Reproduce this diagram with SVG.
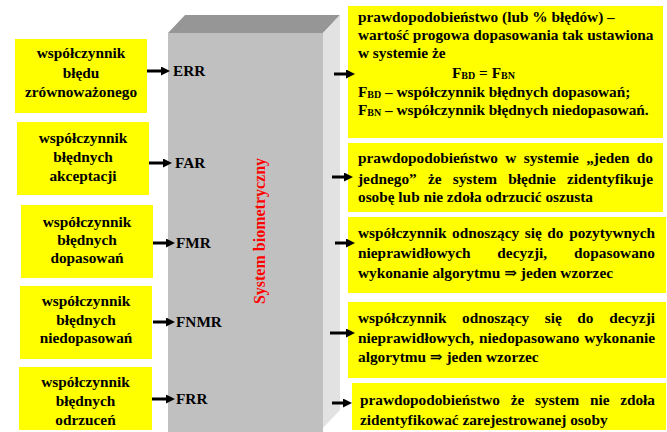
<svg xmlns="http://www.w3.org/2000/svg" width="667" height="432" viewBox="0 0 667 432">
<defs>
<marker id="ah" markerUnits="userSpaceOnUse" markerWidth="9" markerHeight="9" refX="2" refY="4.5" orient="auto">
<path d="M0,0 L9,4.5 L0,9 z" fill="#000"/>
</marker>
<style>
.box{fill:#ffff00;}
.t{font-family:"Liberation Serif","DejaVu Serif",serif;font-weight:bold;font-size:15.3px;fill:#000;}
.c{text-anchor:middle;}
.sub{font-size:10px;}
.ar{stroke:#000;stroke-width:3;fill:none;marker-end:url(#ah);}
.vt{font-family:"Liberation Serif","DejaVu Serif",serif;font-weight:bold;font-size:16px;fill:#ff0000;text-anchor:middle;}
</style>
</defs>
<rect width="667" height="432" fill="#fff"/>

<g id="system">
<rect x="168" y="33" width="155" height="399" fill="#c0c0c0"/>
<polygon points="168,33 185,15 340,15 323,33" fill="#969696"/>
<polygon points="323,33 340,15 340,410 323,428" fill="#e2e2e2"/>
<text class="vt" transform="translate(265,231) rotate(-90)">System biometryczny</text>
<text class="t" x="173" y="76">ERR</text>
<text class="t" x="175" y="168">FAR</text>
<text class="t" x="176" y="248">FMR</text>
<text class="t" x="176" y="327">FNMR</text>
<text class="t" x="176" y="404">FRR</text>
</g>

<g id="l1">
<rect class="box" x="15" y="39" width="132" height="74"/>
<text class="t c" x="81" y="58">współczynnik</text>
<text class="t c" x="81" y="78">błędu</text>
<text class="t c" x="81" y="97">zrównoważonego</text>
</g>
<g id="l2">
<rect class="box" x="17" y="122" width="132" height="73"/>
<text class="t c" x="83" y="143">współczynnik</text>
<text class="t c" x="83" y="162">błędnych</text>
<text class="t c" x="83" y="181">akceptacji</text>
</g>
<g id="l3">
<rect class="box" x="21" y="205" width="132" height="73"/>
<text class="t c" x="87" y="227">współczynnik</text>
<text class="t c" x="87" y="245">błędnych</text>
<text class="t c" x="87" y="263">dopasowań</text>
</g>
<g id="l4">
<rect class="box" x="20" y="286" width="132" height="73"/>
<text class="t c" x="86" y="306">współczynnik</text>
<text class="t c" x="86" y="325">błędnych</text>
<text class="t c" x="86" y="343">niedopasowań</text>
</g>
<g id="l5">
<rect class="box" x="19" y="367" width="133" height="63"/>
<text class="t c" x="85.5" y="387">współczynnik</text>
<text class="t c" x="85.5" y="406">błędnych</text>
<text class="t c" x="85.5" y="425">odrzuceń</text>
</g>

<g id="r1">
<rect class="box" x="348" y="6" width="315" height="132"/>
<text class="t" x="358" y="22">prawdopodobieństwo (lub % błędów) –</text>
<text class="t" x="358" y="40">wartość progowa dopasowania tak ustawiona</text>
<text class="t" x="358" y="58">w systemie że</text>
<text class="t" x="452" y="78">F<tspan class="sub" dy="1">BD</tspan><tspan dy="-1"> = F</tspan><tspan class="sub" dy="1">BN</tspan></text>
<text class="t" x="358" y="97">F<tspan class="sub" dy="1">BD</tspan><tspan dy="-1"> – współczynnik błędnych dopasowań;</tspan></text>
<text class="t" x="358" y="115">F<tspan class="sub" dy="1">BN</tspan><tspan dy="-1"> – współczynnik błędnych niedopasowań.</tspan></text>
</g>
<g id="r2">
<rect class="box" x="348" y="143" width="315" height="69"/>
<text class="t" x="358" y="163" word-spacing="3.6" textLength="295" lengthAdjust="spacing">prawdopodobieństwo w systemie „jeden do</text>
<text class="t" x="358" y="184" word-spacing="7.4" textLength="295" lengthAdjust="spacing">jednego” że system błędnie zidentyfikuje</text>
<text class="t" x="358" y="202">osobę lub nie zdoła odrzucić oszusta</text>
</g>
<g id="r3">
<rect class="box" x="348" y="217" width="318" height="76"/>
<text class="t" x="358" y="238" word-spacing="1.8" textLength="297" lengthAdjust="spacing">współczynnik odnoszący się do pozytywnych</text>
<text class="t" x="358" y="258" word-spacing="23" textLength="297" lengthAdjust="spacing">nieprawidłowych decyzji, dopasowano</text>
<text class="t" x="358" y="278">wykonanie algorytmu ⇒ jeden wzorzec</text>
</g>
<g id="r4">
<rect class="box" x="348" y="302" width="318" height="76"/>
<text class="t" x="358" y="323" word-spacing="11.8" textLength="297" lengthAdjust="spacing">współczynnik odnoszący się do decyzji</text>
<text class="t" x="358" y="343" word-spacing="1" textLength="297" lengthAdjust="spacing">nieprawidłowych, niedopasowano wykonanie</text>
<text class="t" x="358" y="362">algorytmu ⇒ jeden wzorzec</text>
</g>
<g id="r5">
<rect class="box" x="352" y="383" width="314" height="47"/>
<text class="t" x="360" y="405" word-spacing="7" textLength="295" lengthAdjust="spacing">prawdopodobieństwo że system nie zdoła</text>
<text class="t" x="360" y="425">zidentyfikować zarejestrowanej osoby</text>
</g>

<g id="connectors">
<line class="ar" x1="147" y1="71" x2="163" y2="71"/>
<line class="ar" x1="149" y1="163" x2="165" y2="163"/>
<line class="ar" x1="153" y1="243" x2="168" y2="243"/>
<line class="ar" x1="153" y1="322" x2="168" y2="322"/>
<line class="ar" x1="152" y1="399" x2="168" y2="399"/>
<line class="ar" x1="334" y1="74" x2="348" y2="74"/>
<line class="ar" x1="332" y1="177" x2="346" y2="177"/>
<line class="ar" x1="335" y1="243" x2="348" y2="243"/>
<line class="ar" x1="330" y1="333" x2="348" y2="333"/>
<line class="ar" x1="332" y1="403" x2="345" y2="403"/>
</g>
</svg>
